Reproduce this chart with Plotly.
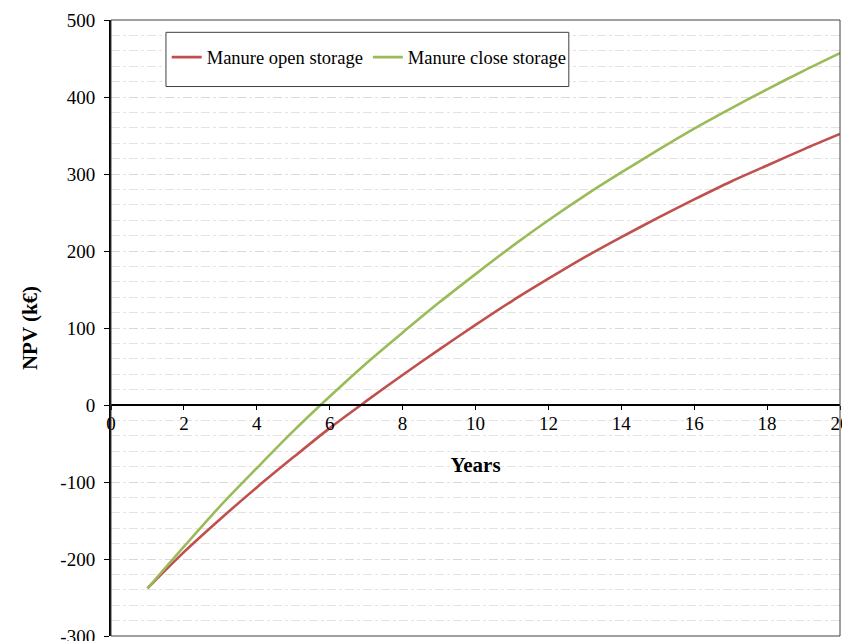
import plotly.graph_objects as go

years = list(range(1, 21))
npv_open = [-238, -191, -148, -107, -68, -30, 5, 39, 72, 104, 135, 164, 192, 218, 243, 267, 290, 311, 332, 352]
npv_close = [-238, -184, -131, -82, -34, 11, 54, 94, 133, 170, 206, 240, 272, 302, 331, 359, 385, 410, 434, 457]
series_names = ["Manure open storage", "Manure close storage"]
series_colors = ["#C0504D", "#9BBB59"]
x_ticks = [0, 2, 4, 6, 8, 10, 12, 14, 16, 18, 20]
y_ticks = [-300, -200, -100, 0, 100, 200, 300, 400, 500]

FONT = "Liberation Serif, Times New Roman, serif"

fig = go.Figure()
for name, vals, col in zip(series_names, [npv_open, npv_close], series_colors):
    fig.add_trace(go.Scatter(x=years, y=vals, mode="lines", name=name,
                             line=dict(color=col, width=2.6, shape="spline", smoothing=0.8)))

# legend frame (paper coords of the plot area)
lx0, lx1, ly0, ly1 = 0.0754, 0.628, 0.892, 0.980

fig.update_layout(
    width=860, height=645,
    margin=dict(l=103, r=28, t=12, b=17),
    paper_bgcolor="white", plot_bgcolor="white",
    font=dict(family=FONT, size=19, color="black"),
    showlegend=True,
    legend=dict(orientation="h", x=lx0 + 0.001, y=(ly0 + ly1) / 2 + 0.003, xanchor="left", yanchor="middle",
                borderwidth=0, bgcolor="rgba(0,0,0,0)",
                font=dict(family=FONT, size=18.5, color="black"),
                itemwidth=30, tracegroupgap=0),
    xaxis=dict(range=[0, 20], tickvals=x_ticks, ticktext=[str(t) for t in x_ticks],
               anchor="free", position=0.375, showline=True, linecolor="black", linewidth=2,
               ticks="outside", ticklen=4, tickcolor="black", tickwidth=1,
               showgrid=False, zeroline=False, automargin=False,
               tickfont=dict(family=FONT, size=19), ticklabelstandoff=-3,
               ticklabeloverflow="allow",
               title=dict(text="<b>Years</b>", font=dict(family=FONT, size=21), standoff=24)),
    yaxis=dict(range=[-300, 500], tickvals=y_ticks, ticktext=[str(t) for t in y_ticks],
               showline=True, linecolor="black", linewidth=2,
               ticks="outside", ticklen=5, tickcolor="black", tickwidth=1,
               showgrid=True, gridcolor="#d9d9d9", griddash="dash", gridwidth=1,
               minor=dict(dtick=20, showgrid=True, gridcolor="#e3e3e3", griddash="dashdot", gridwidth=1),
               zeroline=False, automargin=False,
               tickfont=dict(family=FONT, size=19), ticklabelstandoff=5,
               ticklabeloverflow="allow",
               title=dict(text="<b>NPV (k€)</b>", font=dict(family=FONT, size=21), standoff=17)),
    shapes=[dict(type="rect", xref="paper", yref="paper", x0=0, x1=1, y0=0, y1=1,
                 line=dict(color="#404040", width=1), layer="above"),
            dict(type="rect", xref="paper", yref="paper", x0=lx0, x1=lx1, y0=ly0, y1=ly1,
                 line=dict(color="#404040", width=1), fillcolor="white", layer="above")],
)

fig.write_html("out.html")
